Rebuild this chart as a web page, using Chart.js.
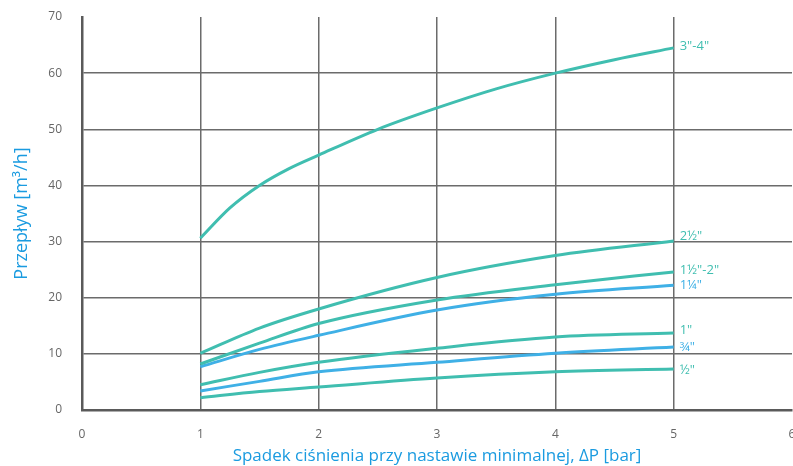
<!DOCTYPE html>
<html>
<head>
<meta charset="utf-8">
<script src="https://cdn.jsdelivr.net/npm/chart.js@4"></script>
<style>
  body { margin: 0; background: #fff; overflow: hidden; }
  #wrap { width: 793px; height: 466px; }
</style>
</head>
<body>
<div id="wrap"><canvas id="myChart" width="793" height="466"></canvas></div>
<script>
const ctx = document.getElementById("myChart").getContext("2d");

// spadek cisnienia [bar]
const dp = [1, 1.5, 2, 3, 4, 5];
const dpBig = [1, 1.25, 1.5, 1.75, 2, 2.5, 3, 3.5, 4, 4.5, 5];

const names = ['3"-4"', '2½"', '1½"-2"', '1¼"', '1"', '¾"', '½"'];
const q34 = [30.6, 36.0, 40.0, 43.0, 45.4, 50.0, 53.8, 57.2, 60.0, 62.4, 64.5];
const q212 = [10.1, 14.6, 18.0, 23.6, 27.5, 30.1];
const q112_2 = [8.2, 11.9, 15.4, 19.6, 22.3, 24.6];
const q114 = [7.7, 10.8, 13.3, 17.8, 20.6, 22.2];
const q1 = [4.5, 6.7, 8.5, 11.0, 13.0, 13.7];
const q34in = [3.4, 5.1, 6.8, 8.5, 10.1, 11.2];
const q12 = [2.2, 3.3, 4.1, 5.7, 6.8, 7.3];

const xTicks = [0, 1, 2, 3, 4, 5, 6];
const yTicks = [0, 10, 20, 30, 40, 50, 60, 70];

const teal = "#40beb0";
const blue = "#3fb0e6";
const series = [q34, q212, q112_2, q114, q1, q34in, q12];
const xs = [dpBig, dp, dp, dp, dp, dp, dp];
const colors = [teal, teal, teal, blue, teal, blue, teal];

const data = {
  datasets: series.map((vals, i) => ({
    label: names[i],
    data: xs[i].map((x, j) => ({ x: x, y: vals[j] })),
    borderColor: colors[i],
    borderWidth: 3,
    pointRadius: 0,
    fill: false,
    cubicInterpolationMode: "monotone",
  })),
};

// labels at the end of each curve
const endLabels = {
  id: "endLabels",
  afterDatasetsDraw(chart) {
    const c = chart.ctx;
    const dy = [-2, -5, -2, 0, -3, 0, 1];
    c.save();
    c.font = "13px 'Open Sans'";
    c.textBaseline = "middle";
    chart.data.datasets.forEach((ds, i) => {
      const last = ds.data[ds.data.length - 1];
      const px = chart.scales.x.getPixelForValue(last.x);
      const py = chart.scales.y.getPixelForValue(last.y);
      c.fillStyle = ds.borderColor;
      c.fillText(ds.label, px + 6, py + dy[i]);
    });
    c.restore();
  },
};

const config = {
  type: "line",
  data: data,
  plugins: [endLabels],
  options: {
    responsive: false,
    animation: false,
    layout: { padding: { left: 11, top: 17, right: 1, bottom: 0 } },
    plugins: { legend: { display: false }, tooltip: { enabled: false } },
    scales: {
      x: {
        type: "linear",
        min: 0,
        max: 6,
        afterBuildTicks: (axis) => { axis.ticks = xTicks.map(v => ({ value: v })); },
        afterFit: (axis) => { axis.height = 56; axis.paddingLeft = 0; axis.paddingRight = 0; },
        grid: {
          drawTicks: false,
          lineWidth: 1.5,
          color: (c) => (c.tick && (c.tick.value === 0 || c.tick.value === 6)) ? "rgba(0,0,0,0)" : "#6b6b6b",
        },
        border: { display: true, color: "#5a5a5a", width: 2.5 },
        ticks: { color: "#666", font: { family: "'Open Sans'", size: 12 }, padding: 17 },
        title: {
          display: true,
          text: "Spadek ciśnienia przy nastawie minimalnej, ΔP [bar]",
          color: "#1a9be0",
          font: { family: "'Open Sans'", size: 17 },
          padding: { top: 0, bottom: 0 },
        },
      },
      y: {
        min: 0,
        max: 70,
        afterBuildTicks: (axis) => { axis.ticks = yTicks.map(v => ({ value: v })); },
        afterFit: (axis) => { axis.width = 71; axis.paddingTop = 0; axis.paddingBottom = 0; },
        grid: {
          drawTicks: false,
          lineWidth: 1.5,
          color: (c) => (c.tick && (c.tick.value === 0 || c.tick.value === 70)) ? "rgba(0,0,0,0)" : "#6b6b6b",
        },
        border: { display: true, color: "#5a5a5a", width: 2.5 },
        ticks: { color: "#666", font: { family: "'Open Sans'", size: 12 }, padding: 20 },
        title: {
          display: true,
          text: "Przepływ [m³/h]",
          color: "#1a9be0",
          font: { family: "'Open Sans'", size: 18 },
          padding: { top: 0, bottom: 0 },
        },
      },
    },
  },
};

const myChart = new Chart(ctx, config);
</script>
</body>
</html>
